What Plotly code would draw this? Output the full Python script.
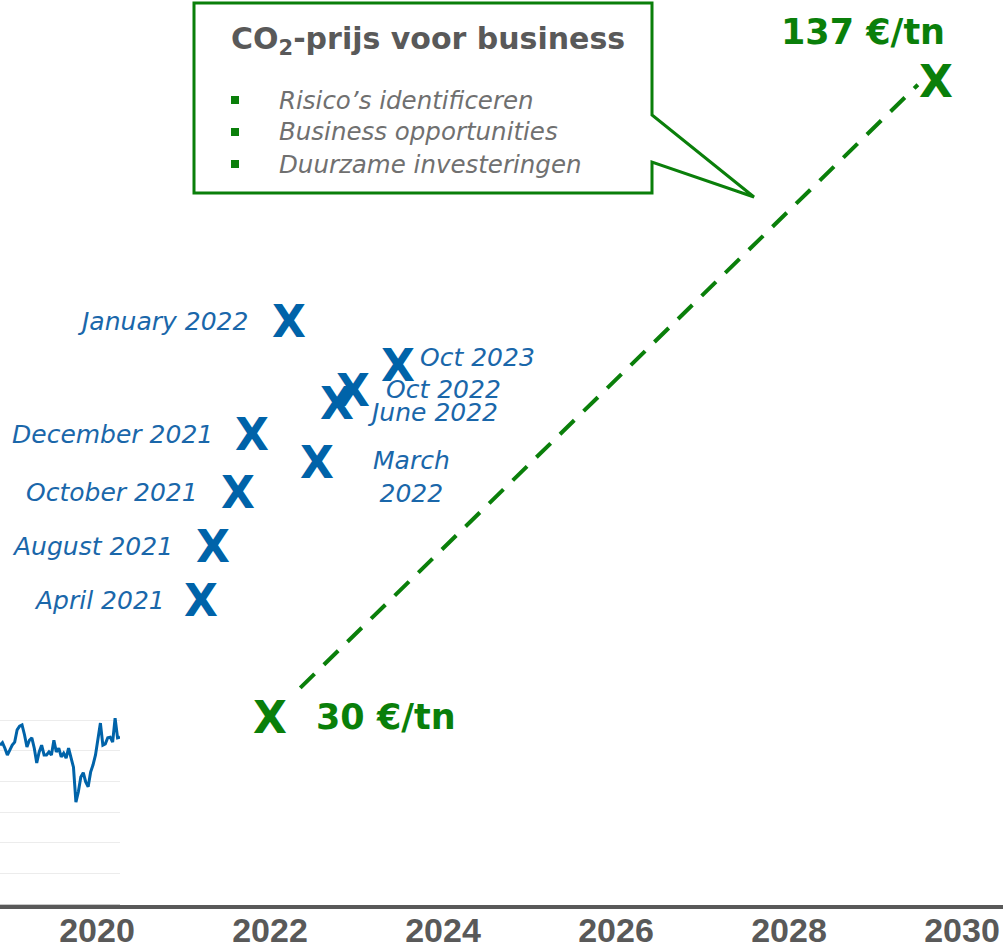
import plotly.graph_objects as go
import pandas as pd

W, H = 1003, 948

GREEN = "#0A7F0A"
BLUE_X = "#0063A9"
BLUE_TXT = "#1A67AA"
GREY = "#595959"

# CO2 price milestones (x in years, y in €/tn)
price_labels = ["April 2021", "August 2021", "October 2021", "December 2021", "January 2022",
                "March<br>2022", "June 2022", "Oct 2022", "Oct 2023"]
price_x = [2021.20, 2021.34, 2021.63, 2021.79, 2022.22, 2022.54, 2022.77, 2022.96, 2023.48]
price_y = [49.5, 58.6, 67.7, 77.4, 96.4, 72.7, 82.7, 84.9, 89.1]

target_x = [2022.0, 2029.7]
target_y = [30, 136.7]
target_labels = ["30 €/tn", "137 €/tn"]
trend_x = [2022.35, 2029.49]
trend_y = [34.9, 136.2]

year_ticks = [2020, 2022, 2024, 2026, 2028, 2030]

# historic EUA price, weekly (inset bottom left)
eua_price = [25.9, 26.3, 25.4, 24.3, 25.1, 25.9, 26.4, 28.4, 29.0, 29.2,
             27.6, 25.6, 26.7, 27.1, 25.4, 23.0, 24.8, 25.9, 24.3, 24.3,
             24.8, 24.3, 26.7, 24.8, 25.4, 24.0, 24.6, 23.8, 25.4, 23.8,
             22.3, 16.6, 18.3, 20.7, 21.4, 19.9, 19.1, 21.5, 22.7, 24.3,
             27.2, 29.5, 25.9, 26.1, 27.1, 27.2, 26.4, 30.3, 27.1, 27.2]
eua_dates = pd.date_range("2019-07-29", periods=len(eua_price), freq="7D")

callout_title = "CO<sub>2</sub>-prijs voor business"
callout_items = ["Risico’s identificeren", "Business opportunities", "Duurzame investeringen"]


def px(x):
    return x / W


def py(y):
    return 1 - y / H


fig = go.Figure()

# inset: historic price
fig.add_trace(go.Scatter(x=eua_dates, y=eua_price, mode="lines",
                         line=dict(color=BLUE_X, width=3), xaxis="x2", yaxis="y2",
                         hoverinfo="skip"))

# dashed path to 2030
fig.add_trace(go.Scatter(x=trend_x, y=trend_y, mode="lines",
                         line=dict(color=GREEN, width=4, dash="20px,13px"), hoverinfo="skip"))

# invisible anchor points (hover) for the crosses
fig.add_trace(go.Scatter(x=target_x, y=target_y, mode="markers", marker=dict(opacity=0),
                         text=target_labels, hoverinfo="text"))
fig.add_trace(go.Scatter(x=price_x, y=price_y, mode="markers", marker=dict(opacity=0),
                         text=[t.replace("<br>", " ") for t in price_labels], hoverinfo="text"))

# crosses drawn as letter X at each data point
for x, y in zip(target_x, target_y):
    fig.add_annotation(x=x, y=y, text="X", showarrow=False,
                       font=dict(family="DejaVu Sans", size=44, color=GREEN, weight="bold"))
for x, y in zip(price_x, price_y):
    fig.add_annotation(x=x, y=y, text="X", showarrow=False,
                       font=dict(family="DejaVu Sans", size=44, color=BLUE_X, weight="bold"))

# labels next to the blue crosses: (xshift, yshift, xanchor)
label_pos = [(-34, 0, "right"), (-38, 0, "right"), (-38, 0, "right"), (-37, 0, "right"),
             (-39, 0, "right"), (95, -14, "center"), (28, -9, "left"), (31, 1, "left"), (20, 8, "left")]
for lab, x, y, (dx, dy, anc) in zip(price_labels, price_x, price_y, label_pos):
    fig.add_annotation(x=x, y=y, text=lab, showarrow=False, xanchor=anc, yanchor="middle",
                       xshift=dx, yshift=dy,
                       font=dict(family="DejaVu Sans", size=25, color=BLUE_TXT, style="italic"))

# target labels
fig.add_annotation(x=target_x[0], y=target_y[0], text=target_labels[0], showarrow=False,
                   xanchor="left", yanchor="middle", xshift=44,
                   font=dict(family="DejaVu Sans", size=35, color=GREEN, weight="bold"))
fig.add_annotation(x=target_x[1], y=target_y[1], text=target_labels[1], showarrow=False,
                   xanchor="center", yanchor="middle", xshift=-73, yshift=50,
                   font=dict(family="DejaVu Sans", size=35, color=GREEN, weight="bold"))

# callout bubble
pts = [(194, 3), (652, 3), (652, 115), (754, 197), (652, 162), (652, 193), (194, 193)]
path = "M " + " L ".join(f"{px(a):.5f},{py(b):.5f}" for a, b in pts) + " Z"
fig.add_shape(type="path", path=path, xref="paper", yref="paper",
              line=dict(color=GREEN, width=3), fillcolor="white", layer="above")

fig.add_annotation(x=px(229), y=py(40), xref="paper", yref="paper", text=callout_title,
                   showarrow=False, xanchor="left", yanchor="middle",
                   font=dict(family="DejaVu Sans", size=30, color=GREY, weight="bold"))
for i, item in enumerate(callout_items):
    yc = 100 + i * 32
    fig.add_shape(type="rect", xref="paper", yref="paper",
                  x0=px(231), x1=px(239), y0=py(yc - 4), y1=py(yc + 4),
                  fillcolor=GREEN, line=dict(width=0), layer="above")
    fig.add_annotation(x=px(277), y=py(yc), xref="paper", yref="paper", text=item,
                       showarrow=False, xanchor="left", yanchor="middle",
                       font=dict(family="DejaVu Sans", size=24.5, color="#707070", style="italic"))

fig.update_layout(
    width=W, height=H,
    margin=dict(l=0, r=0, t=0, b=0, autoexpand=False),
    paper_bgcolor="white", plot_bgcolor="rgba(0,0,0,0)",
    showlegend=False,
    xaxis=dict(domain=[0, 1], range=[2018.879, 2030.474], tickvals=year_ticks,
               showgrid=False, zeroline=False, showline=True, linecolor=GREY, linewidth=4,
               ticks="", automargin=False, ticklabelstandoff=-8,
               tickfont=dict(family="Liberation Sans", size=34, color=GREY, weight="bold")),
    yaxis=dict(domain=[py(905), 1], range=[-1.58, 150.44], visible=False, automargin=False),
    xaxis2=dict(domain=[0, px(120)], range=[eua_dates[0], eua_dates[-1]], anchor="y2",
                showgrid=False, zeroline=False, showline=True, linecolor="#c8c8c8", linewidth=1,
                showticklabels=False, ticks="", automargin=False),
    yaxis2=dict(domain=[py(904), py(710.8)], range=[0, 31.5], anchor="x2", dtick=5,
                showgrid=True, gridcolor="#ececec", gridwidth=1, zeroline=False,
                showticklabels=False, ticks="", automargin=False),
)

fig.write_html("out.html", config={"displayModeBar": False},
               post_script="document.body.style.margin='0';document.body.style.overflow='hidden';")
